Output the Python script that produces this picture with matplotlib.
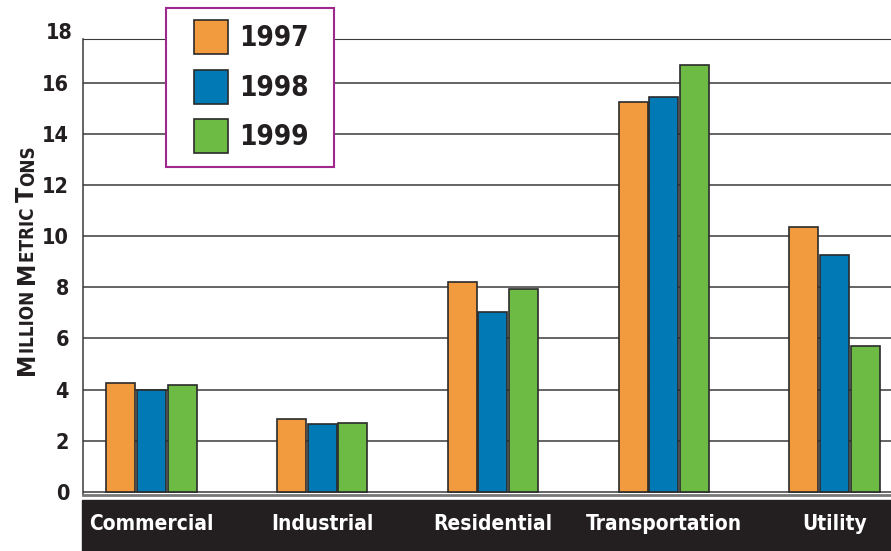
import matplotlib
matplotlib.use("Agg")
from matplotlib import pyplot as plt
from matplotlib.patches import Rectangle
from matplotlib.transforms import blended_transform_factory
import numpy as np

# 窄体粗体
plt.rcParams['font.family'] = ['DejaVu Sans']
plt.rcParams['font.stretch'] = 'condensed'
plt.rcParams['font.weight'] = 'bold'

categories = ["Commercial", "Industrial", "Residential", "Transportation", "Utility"]
years = ["1997", "1998", "1999"]
v1997 = [4.25, 2.84, 8.2, 15.25, 10.36]
v1998 = [3.98, 2.64, 7.03, 15.44, 9.25]
v1999 = [4.17, 2.71, 7.93, 16.67, 5.72]
yticks = [0, 2, 4, 6, 8, 10, 12, 14, 16]
colors = ["#f19a3e", "#0079b5", "#6dbb45"]

W, H = 891, 551
fig = plt.figure(figsize=(W / 100, H / 100), dpi=100)
ax = fig.add_axes([83 / W, 1 - 495 / H, 1 - 83 / W, (495 - 39) / H])

x = np.arange(len(categories))
bw = 0.17
off = 0.18
for i, vals in enumerate([v1997, v1998, v1999]):
    ax.bar(x + (i - 1) * off, vals, width=bw, color=colors[i],
           edgecolor="#2a2a2a", linewidth=1.2, zorder=3)

ax.set_xlim(-0.4, 4.33)
ax.set_ylim(-0.12, 17.7)
ax.set_yticks(yticks)
ax.set_yticklabels([str(t) for t in yticks], fontsize=15.5, fontweight='bold')
ax.tick_params(axis='y', length=0, pad=10, colors="#231f20")
ax.set_xticks([])
for t in yticks:
    ax.axhline(t, color="#3a3a3a", linewidth=1.1, zorder=1)

ax.spines["right"].set_visible(False)
ax.spines["top"].set_color("#3a3a3a")
ax.spines["left"].set_color("#3a3a3a")
ax.spines["left"].set_linewidth(1.1)
ax.spines["bottom"].set_color("#777777")
ax.spines["bottom"].set_linewidth(2)

# "18" sits above the frame
fig.text(73 / W, 1 - 33 / H, "18", ha="right", va="center", fontsize=15.5,
         fontweight="bold", color="#231f20")

# dark band with category names
band = Rectangle((82 / W, 0), 1 - 82 / W, 51 / H, transform=fig.transFigure,
                 color="#231f20", zorder=-1)
fig.patches.append(band)
tr = blended_transform_factory(ax.transData, fig.transFigure)
for xi, name in zip(x, categories):
    ax.text(xi, 1 - 524 / H, name, transform=tr, ha="center", va="center",
            fontsize=15, fontweight="bold", color="white", clip_on=False, zorder=10)


# legend box, drawn in figure pixels
def px(xp, yp):
    return xp / W, 1 - yp / H


fig.patches.append(Rectangle(px(166, 167), 168 / W, 159 / H, transform=fig.transFigure,
                             facecolor="white", edgecolor="#a0288c", linewidth=1.5, zorder=5))
for i, (c, yr) in enumerate(zip(colors, years)):
    top = 20 + i * 49.5
    fig.patches.append(Rectangle(px(194, top + 34), 34 / W, 34 / H, transform=fig.transFigure,
                                 facecolor=c, edgecolor="#2a2a2a", linewidth=1.2, zorder=6))
    fig.text(*px(239, top + 18), yr, ha="left", va="center", fontsize=20,
             fontweight="bold", color="#231f20", zorder=7)

# y label in small caps
renderer = fig.canvas.get_renderer()
pieces = [("M", 18), ("ILLION ", 13.5), ("M", 18), ("ETRIC ", 13.5), ("T", 18), ("ONS", 13.5)]
ypix = 375
for s, fs in pieces:
    t = fig.text(34 / W, 1 - ypix / H, s, rotation=90, rotation_mode="anchor",
                 ha="left", va="baseline", fontsize=fs, fontweight="bold", color="#231f20")
    ext = t.get_window_extent(renderer)
    ypix -= ext.height

fig.savefig("out.png", dpi=100)
